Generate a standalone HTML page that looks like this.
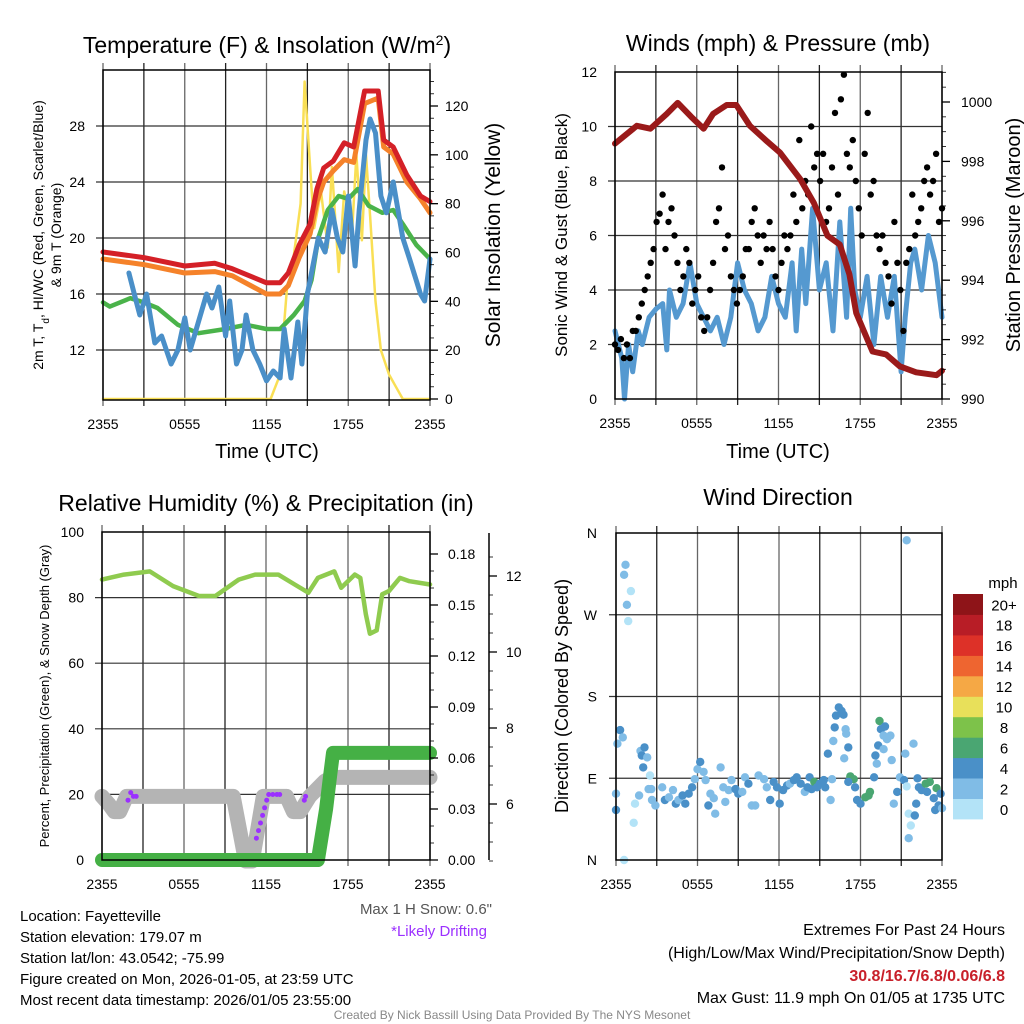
<!DOCTYPE html>
<html><head><meta charset="utf-8"><style>
body{margin:0;background:#fff;}
svg{display:block;font-family:"Liberation Sans",sans-serif;}
</style></head><body>
<svg id="chart" width="1024" height="1024" viewBox="0 0 1024 1024" xmlns="http://www.w3.org/2000/svg">
<rect x="0" y="0" width="1024" height="1024" fill="#fff"/>
<g id="grids"></g>
<g id="series"></g>
<g id="frames"></g>
<g id="labels" font-size="14" fill="#000"></g>
<text x="267" y="53" font-size="23" text-anchor="middle">Temperature (F) &amp; Insolation (W/m<tspan baseline-shift="super" font-size="14">2</tspan>)</text>
<text x="778" y="51" font-size="23" text-anchor="middle">Winds (mph) &amp; Pressure (mb)</text>
<text x="266" y="511" font-size="23" text-anchor="middle">Relative Humidity (%) &amp; Precipitation (in)</text>
<text x="778" y="505" font-size="23" text-anchor="middle">Wind Direction</text>
<text transform="translate(43,235) rotate(-90)" font-size="14" text-anchor="middle">2m T, T<tspan baseline-shift="sub" font-size="10">d</tspan>, HI/WC (Red, Green, Scarlet/Blue)</text>
<text transform="translate(61,235) rotate(-90)" font-size="14" text-anchor="middle">&amp; 9m T (Orange)</text>
<text transform="translate(500,235) rotate(-90)" font-size="21" text-anchor="middle">Solar Insolation (Yellow)</text>
<text x="267" y="458" font-size="20" text-anchor="middle">Time (UTC)</text>
<text x="778" y="458" font-size="20" text-anchor="middle">Time (UTC)</text>
<text transform="translate(567,235) rotate(-90)" font-size="17" text-anchor="middle">Sonic Wind &amp; Gust (Blue, Black)</text>
<text transform="translate(1020,235) rotate(-90)" font-size="20" text-anchor="middle">Station Pressure (Maroon)</text>
<text transform="translate(49,696) rotate(-90)" font-size="13" text-anchor="middle">Percent, Precipitation (Green), &amp; Snow Depth (Gray)</text>
<text transform="translate(568,696) rotate(-90)" font-size="18" text-anchor="middle">Direction (Colored By Speed)</text>
<text x="1003" y="588" font-size="15" text-anchor="middle">mph</text>
<g font-size="15">
<text x="20" y="921">Location: Fayetteville</text>
<text x="20" y="942">Station elevation: 179.07 m</text>
<text x="20" y="963">Station lat/lon: 43.0542; -75.99</text>
<text x="20" y="984">Figure created on Mon, 2026-01-05, at 23:59 UTC</text>
<text x="20" y="1005">Most recent data timestamp: 2026/01/05 23:55:00</text>
</g>
<text x="492" y="914" font-size="15" fill="#555" text-anchor="end">Max 1 H Snow: 0.6"</text>
<text x="487" y="936" font-size="15" fill="#9b30ff" text-anchor="end">*Likely Drifting</text>
<g font-size="16" text-anchor="end">
<text x="1005" y="935">Extremes For Past 24 Hours</text>
<text x="1005" y="958">(High/Low/Max Wind/Precipitation/Snow Depth)</text>
<text x="1005" y="981" fill="#c8202a" font-weight="bold">30.8/16.7/6.8/0.06/6.8</text>
<text x="1005" y="1003">Max Gust: 11.9 mph On 01/05 at 1735 UTC</text>
</g>
<text x="512" y="1019" font-size="12" fill="#888" text-anchor="middle">Created By Nick Bassill Using Data Provided By The NYS Mesonet</text>
</svg>
<script>
// ---------- data ----------
const timeTicks = [0,6,12,18,24];
const timeTickLabels = ["2355","0555","1155","1755","2355"];
const tempTicks = [12,16,20,24,28];
const insolTicks = [0,20,40,60,80,100,120];
const redHours = [0,3,6,8.2,9.5,12,13,13.6,14.4,15.2,15.7,16.2,16.9,17.7,18.4,19.2,20.2,20.6,21.3,22.3,23.3,24];
const redTemp = [19,18.6,18,18.2,17.8,16.8,16.8,17.5,19.5,21,23.5,25,25.5,26.8,26.5,30.5,30.5,27,26.5,24.5,23,22.6];
const orangeHours = [0,3,6,8.2,9.5,12,13,13.6,14.4,15.2,15.7,16.2,16.9,17.7,18.4,19.2,20.2,20.6,21.3,22.3,23.3,24];
const orangeTemp = [18.5,18.1,17.5,17.6,17.3,16,16,16.6,18.6,20.3,22.6,24,24.8,25.6,25.4,29.6,30,26.5,26,24,22.8,21.8];
const greenHours = [0,0.5,2,3,4,5.5,7,9,10.5,12,13,14,14.8,15.3,15.8,16.5,17.3,18,18.7,19.5,20.5,21.3,22,23,24];
const greenTemp = [15.4,15.1,15.7,15.4,15,13.8,13.2,13.5,13.8,13.5,13.5,14.5,15.5,17,20,22,23,22.8,23.5,22.3,21.8,22,21,19.5,18.5];
const blueHours = [1.9,2.3,2.7,3.2,3.8,4.3,5,5.5,6,6.4,7,7.6,8,8.5,9,9.3,9.8,10.2,10.5,11,11.5,12,12.5,13,13.3,13.8,14.3,14.6,15,15.8,16.3,16.8,17.2,17.6,18,18.5,18.8,19.3,19.6,20,20.4,20.8,21.3,22,22.5,23.3,23.6,24];
const blueTemp = [17.5,16,14.5,16,12.5,13,11,12,14.3,12,14,16,15,16.5,13,15.5,11,12,14.5,12,11,9.8,10.5,10,13.5,10,14,11,16,20,19,22,20,19,23,18,22,27,28.5,27.5,23,21.8,24,20,18.5,16,15.5,18.5];
const insolHours = [0,12.3,13,13.5,13.8,14.5,14.8,15.2,15.5,16,16.5,16.8,17.3,17.7,18.3,18.6,19,19.3,19.6,20,20.4,21,21.5,22,24];
const insolValues = [0,0,10,45,50,80,130,95,70,85,62,95,52,85,70,100,65,100,75,40,20,10,5,0,0];

const windTicks = [0,2,4,6,8,10,12];
const pressTicks = [990,992,994,996,998,1000];
const pressHours = [0,1.6,2.6,3.8,4.6,5.6,6.5,7.2,8.2,8.9,9.9,11.1,12.1,13.6,14.6,15.6,16.5,17.2,17.7,18.9,19.9,20.9,22.1,23.6,24];
const pressValues = [998.6,999.2,999.1,999.6,999.97,999.5,999.1,999.6,999.9,999.9,999.2,998.7,998.3,997.4,996.6,995.5,995.2,994.2,992.9,991.6,991.5,991.1,990.9,990.8,990.95];
const sonicHours = [0,0.5,0.7,1,1.3,1.7,2,2.5,3,3.5,3.8,4,4.5,5,5.5,6,6.5,7,7.5,8,8.5,9,9.5,10,10.5,11,11.5,12,12.5,13,13.3,13.7,14,14.5,15,15.5,16,16.5,17,17.3,17.6,18,18.5,19,19.5,20,20.5,21,21.3,21.7,22,22.5,23,23.5,24];
const sonicSpeed = [2.5,1.5,0,2,1,2.5,2,3,3.3,3.5,1.8,4,3,3.5,5,3.5,3,2.5,3,2,3,5,4,3.5,2.5,3,4.5,3.5,3,5,2.5,5.5,3.5,7,4,5,2.5,6.5,3,7,4,3,4.5,2,4.5,3,4.5,1,3,5,5.5,4,6,5,3];
const gustSpeed = [2,1.8,2.2,1.5,2,1.5,2.5,2.5,3,3.5,4,4.5,5,5.5,6.5,6.8,7.5,5.5,6.5,7,6,5,4,4.5,5.5,5,3.5,4,4.5,3,2.5,3,4,5,6.5,7,8.5,5.5,6,4.5,4,3.5,4,4.5,5.5,5.5,6.5,7,6,5,6,5.5,6.5,5.5,4.5,4,5,6,5.5,6,7.5,6.5,9.5,7,8,7.5,10,8.5,9,8,9,6.5,7,8.5,10.5,7.5,11,11.9,9,8.5,9.5,8,7,6,9,10.5,7.5,8,6,5.5,6,5,4.5,3.5,6.5,5,4,2.5,5,5.5,7.5,6,6.5,7,8,8.5,7.5,8,9,6.5,7];

const rhTicks = [0,20,40,60,80,100];
const precipTicks = [0,0.03,0.06,0.09,0.12,0.15,0.18];
const precipTickLabels = ["0.00","0.03","0.06","0.09","0.12","0.15","0.18"];
const snowTicks = [6,8,10,12];
const rhHours = [0,1.6,3.5,5.2,7.1,8.3,10,11.2,12.9,14.1,15.1,15.8,17,17.5,18.5,18.9,19.3,19.6,20.1,20.5,21,21.8,22.5,24];
const rhValues = [85.5,87,88,83.5,80.5,80.5,85.5,87,87,84,81.5,86,88,83,87,86,75,69,70,81,82,86,85,84];
const precipHours = [0,15.8,16.1,16.4,16.7,16.9,24];
const precipValues = [0,0,0.015,0.03,0.05,0.063,0.063];
const snowHours = [0,0.5,0.9,1.3,1.8,9.6,10.5,11,11.8,13.5,14,14.5,15.2,16.3,16.8,24];
const snowValues = [6.2,6,5.8,5.8,6.2,6.2,4.5,4.5,6.2,6.2,5.8,5.8,6.2,6.6,6.7,6.7];
const driftHours = [1.9,2.1,2.3,2.5,11.3,11.45,11.6,11.75,11.9,12.05,12.2,12.5,12.8,13.0,14.8,14.9];
const driftSnow = [6.1,6.3,6.2,6.2,5.1,5.3,5.5,5.7,5.9,6.1,6.25,6.25,6.25,6.25,6.1,6.2];

const dirTicks = [0,90,180,270,360];
const dirTickLabels = ["N","E","S","W","N"];
const dirHours = [0,0,0.1,0.3,0.5,0.7,0.6,0.8,1.1,0.9,0.6,1.3,1.4,1.7,1.8,2.1,1.9,2.3,2.0,2.5,2.4,2.6,2.65,2.9,3.4,3.6,3.9,4.2,4.4,4.6,4.9,5.1,5.35,5.6,5.8,6.0,6.2,6.45,6.6,6.8,6.95,7.2,7.3,7.7,7.9,8.05,8.3,8.5,8.8,9.0,9.3,9.5,9.75,10.0,10.25,10.5,10.9,11.1,11.35,11.6,11.85,12.05,12.3,12.6,12.8,13.1,13.3,13.6,13.9,14.1,14.25,14.4,14.6,14.8,15.0,15.3,15.4,15.6,15.8,15.9,16.0,16.1,16.2,16.4,16.6,16.75,16.9,16.95,17.1,16.8,17.25,17.5,17.1,17.75,18.0,17.6,18.35,18.7,18.6,19.0,19.1,19.2,19.3,19.4,19.5,19.8,19.7,19.95,20.2,20.3,19.7,20.45,20.7,20.9,21.2,21.3,21.4,21.4,21.55,21.7,21.55,21.9,22.0,22.1,22.2,22.3,22.5,22.8,22.9,23.1,23.4,23.6,23.5,23.75,23.9,24.0];
const dirDegrees = [55,73,128,143,135,325,314,281,296,263,0,41,62,71,120,124,115,113,102,93,78,78,66,60,80,66,69,77,62,66,71,62,73,80,89,100,108,97,88,60,73,68,51,102,80,64,77,88,78,73,75,91,84,60,60,93,89,80,66,86,80,62,77,82,84,88,91,84,75,80,91,78,86,80,84,88,80,117,66,89,131,146,159,168,164,160,144,139,124,112,92,89,86,66,62,80,69,75,71,91,115,106,126,153,144,147,137,133,137,110,122,62,75,91,88,117,352,81,51,38,24,128,49,62,90,80,77,84,75,86,68,79,55,60,73,57];
const dirSpeeds = [5,3,3,5,3,3,3,3,1,1,1,1,1,3,3,5,5,3,5,1,3,3,3,3,3,5,3,3,5,3,5,5,5,5,3,3,5,3,3,5,3,3,3,3,3,3,3,3,5,5,3,3,5,3,3,3,3,3,5,5,5,5,5,5,3,5,5,5,3,5,5,5,7,5,5,5,5,5,3,3,3,5,5,5,5,5,3,3,5,3,7,7,5,5,5,5,7,7,7,5,5,3,5,7,5,5,3,3,3,3,3,3,5,3,5,3,3,1,1,1,3,3,5,5,5,5,5,7,5,7,5,7,5,5,5,3];
const speedBinLabels = ["0","2","4","6","8","10","12","14","16","18","20+"];
const speedBinColors = ["#b3e3f7","#80bce6","#4a90c8","#4aa672","#7dc24a","#e8e05a","#f5a845","#ee6530","#dd3128","#b81d26","#8e1418"];

// ---------- helpers ----------
const NS = "http://www.w3.org/2000/svg";
const G = id => document.getElementById(id);
function mk(tag, parent){ const e = document.createElementNS(NS, tag); parent.appendChild(e); return e; }
function lin(d0,d1,r0,r1){ return v => r0 + (v-d0)*(r1-r0)/(d1-d0); }

const P1 = {x0:103,x1:430,y0:70,y1:400};
const P2 = {x0:615,x1:942,y0:72,y1:399};
const P3 = {x0:102,x1:430,y0:532,y1:860};
const P4 = {x0:616,x1:942,y0:533,y1:860};
const x1s = lin(0,24,P1.x0,P1.x1), x2s = lin(0,24,P2.x0,P2.x1), x3s = lin(0,24,P3.x0,P3.x1), x4s = lin(0,24,P4.x0,P4.x1);
const tY = lin(12,28,350,126), iY = lin(0,120,399,106);
const wY = lin(0,12,399,72), pY = lin(990,1000,399,102);
const rhY = lin(0,100,860,532), prY = lin(0,0.06,860,758), snY = lin(6,8,804,728);
const dY = lin(0,360,860,533);

const grids = G('grids'), series = G('series'), frames = G('frames'), labels = G('labels');

function panelGrid(P, xs, hLines, yFn, name){
  for(let h=0; h<=24; h+=3){
    const l = mk('line', grids);
    
    
    l.setAttribute('x1',xs(h)); l.setAttribute('x2',xs(h));
    l.setAttribute('y1',P.y0-7); l.setAttribute('y2',P.y1+6);
    l.setAttribute('stroke', (h%6===0)?'#666':'#222'); l.setAttribute('stroke-width','1.3');
  }
  hLines.forEach(v=>{
    const l = mk('line', grids);
    
    
    l.setAttribute('x1',P.x0-7); l.setAttribute('x2',P.x1);
    l.setAttribute('y1',yFn(v)); l.setAttribute('y2',yFn(v));
    l.setAttribute('stroke','#333'); l.setAttribute('stroke-width','1.2');
  });
  const r = mk('rect', frames);
  
  
  r.setAttribute('x',P.x0); r.setAttribute('y',P.y0);
  r.setAttribute('width',P.x1-P.x0); r.setAttribute('height',P.y1-P.y0);
  r.setAttribute('fill','none'); r.setAttribute('stroke','#000'); r.setAttribute('stroke-width','1.5');
  timeTicks.forEach((h,i)=>{
    const t = mk('text', labels);
    
    
    t.setAttribute('x',xs(h)); t.setAttribute('y',P.y1+29); t.setAttribute('text-anchor','middle');
    t.textContent = timeTickLabels[i];
  });
}
function yLabels(vals, texts, yFn, x, anchor, name, size){
  vals.forEach((v,i)=>{
    const t = mk('text', labels);
    
    
    t.setAttribute('x',x); t.setAttribute('y',yFn(v)+5); t.setAttribute('text-anchor',anchor);
    if(size) t.setAttribute('font-size',size);
    t.textContent = texts ? texts[i] : String(v);
  });
}
function rightTicks(x, vals, yFn, len, name){
  vals.forEach(v=>{
    const l = mk('line', frames);
    
    
    l.setAttribute('x1',x); l.setAttribute('x2',x+len);
    l.setAttribute('y1',yFn(v)); l.setAttribute('y2',yFn(v));
    l.setAttribute('stroke','#000'); l.setAttribute('stroke-width', len>6?'1.3':'0.8');
  });
}
function vline(x,y0,y1,name){
  const l = mk('line', frames);
  
  
  l.setAttribute('x1',x); l.setAttribute('x2',x); l.setAttribute('y1',y0); l.setAttribute('y2',y1);
  l.setAttribute('stroke','#000'); l.setAttribute('stroke-width','1.5');
}
function poly(hours, vals, xs, yFn, color, w, name, op){
  const p = mk('polyline', series);
  
  
  p.setAttribute('points', hours.map((h,i)=>xs(h).toFixed(1)+','+yFn(vals[i]).toFixed(1)).join(' '));
  p.setAttribute('fill','none'); p.setAttribute('stroke',color); p.setAttribute('stroke-width',w);
  p.setAttribute('stroke-linejoin','round'); p.setAttribute('stroke-linecap','round');
  if(op) p.setAttribute('opacity',op);
}
function dot(x,y,r,color,name){
  const c = mk('circle', series);
  
  
  c.setAttribute('cx',x.toFixed(1)); c.setAttribute('cy',y.toFixed(1)); c.setAttribute('r',r); c.setAttribute('fill',color);
}
const minor = (a,b,s)=>{const o=[];for(let v=a;v<=b+1e-9;v+=s)o.push(+v.toFixed(4));return o;};

// ---------- panel 1 ----------
panelGrid(P1, x1s, tempTicks, tY, 'temp');
yLabels(tempTicks, null, tY, 85, 'end', 'temp-y-tick-label');
yLabels(insolTicks, null, iY, 445, 'start', 'insol-tick-label');
rightTicks(P1.x1, insolTicks, iY, 8, 'insol-major-tick');
rightTicks(P1.x1, minor(0,132,5), iY, 4, 'insol-minor-tick');
poly(insolHours, insolValues, x1s, iY, '#f9df55', 2.5, 'insolation-line');
poly(greenHours, greenTemp, x1s, tY, '#4ab34a', 4.5, 'dewpoint-line');
poly(orangeHours, orangeTemp, x1s, tY, '#f5822a', 5, 'temp-9m-line');
poly(redHours, redTemp, x1s, tY, '#d42027', 5, 'temp-2m-line');
poly(blueHours, blueTemp, x1s, tY, '#4a8fc8', 5, 'windchill-line');

// ---------- panel 2 ----------
panelGrid(P2, x2s, [2,4,6,8,10], wY, 'winds');
yLabels(windTicks, null, wY, 597, 'end', 'wind-y-tick-label');
yLabels(pressTicks, null, pY, 961, 'start', 'pressure-tick-label');
rightTicks(P2.x1, pressTicks, pY, 8, 'pressure-major-tick');
rightTicks(P2.x1, minor(990,1001,0.5), pY, 4, 'pressure-minor-tick');
poly(sonicHours, sonicSpeed, x2s, wY, '#5599d0', 5, 'sonic-wind-line');
gustSpeed.forEach((v,i)=>{
  const h = i*24/(gustSpeed.length-1);
  dot(x2s(h), wY(v), 3.2, '#000', 'gust-point');
});
poly(pressHours, pressValues, x2s, pY, '#9a1a1a', 6, 'pressure-line');

// ---------- panel 3 ----------
panelGrid(P3, x3s, [20,40,60,80], rhY, 'humidity');
yLabels(rhTicks, null, rhY, 84, 'end', 'rh-y-tick-label');
yLabels(precipTicks, precipTickLabels, prY, 448, 'start', 'precip-tick-label');
rightTicks(P3.x1, precipTicks, prY, 8, 'precip-major-tick');
rightTicks(P3.x1, minor(0,0.186,0.01), prY, 4, 'precip-minor-tick');
vline(489, 533, 860, 'snow-axis-line');
yLabels(snowTicks, null, snY, 506, 'start', 'snow-tick-label');
rightTicks(489, snowTicks, snY, 8, 'snow-major-tick');
rightTicks(489, minor(4.5,12.9,0.5), snY, 4, 'snow-minor-tick');
poly(rhHours, rhValues, x3s, rhY, '#8fcb4f', 4.5, 'rh-line');
poly(snowHours, snowValues, x3s, snY, '#b4b4b4', 15, 'snow-depth-line');
poly(precipHours, precipValues, x3s, prY, '#45b045', 14, 'precip-line');
driftHours.forEach((h,i)=>dot(x3s(h), snY(driftSnow[i]), 2.5, '#9b30ff', 'drift-point'));

// ---------- panel 4 ----------
panelGrid(P4, x4s, [90,180,270], dY, 'direction');
yLabels(dirTicks, dirTickLabels, dY, 597, 'end', 'direction-tick-label');
function speedColor(s){ return speedBinColors[Math.min(10, Math.floor(s/2))]; }
dirHours.forEach((h,i)=>dot(x4s(h), dY(dirDegrees[i]), 4.2, speedColor(dirSpeeds[i]), 'direction-point'));
// colorbar
speedBinLabels.forEach((lab,i)=>{
  const bh = 20.45, yb = 819 - (i+1)*bh;
  const r = mk('rect', series);
  
  
  r.setAttribute('x',953); r.setAttribute('y',yb.toFixed(1)); r.setAttribute('width',30); r.setAttribute('height',(bh+0.5).toFixed(1));
  r.setAttribute('fill',speedBinColors[i]);
  const t = mk('text', labels);
  
  
  t.setAttribute('x',1004); t.setAttribute('y',(yb+bh/2+6).toFixed(1)); t.setAttribute('text-anchor','middle'); t.setAttribute('font-size','15');
  t.textContent = lab;
});
</script>
</body></html>
